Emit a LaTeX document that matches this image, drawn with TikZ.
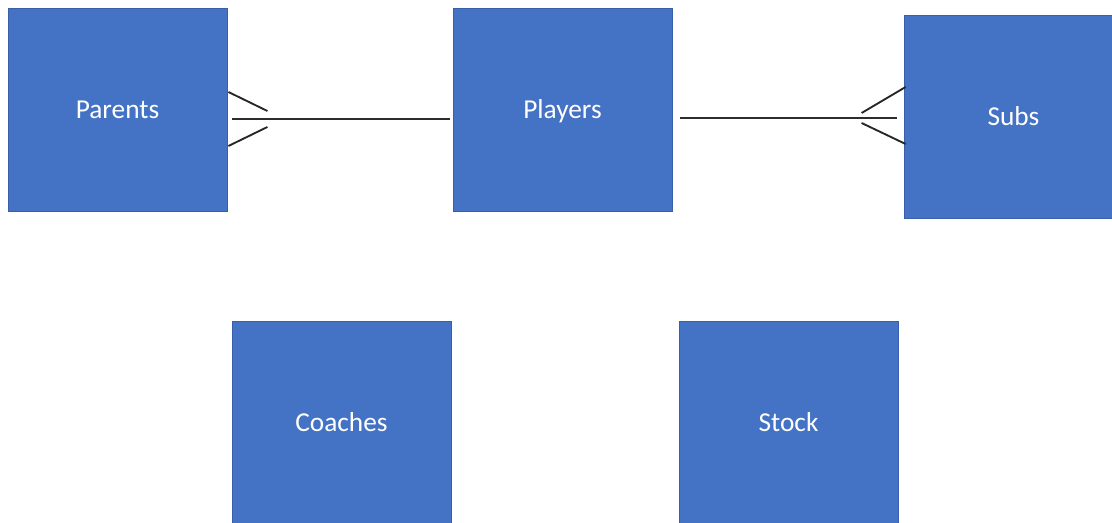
\documentclass[tikz,border=0pt]{standalone}
\usepackage{fontspec}
\setmainfont{Carlito}
\definecolor{boxblue}{RGB}{68,114,196}
\definecolor{boxedge}{RGB}{55,95,170}
\definecolor{linegray}{RGB}{45,45,45}
\begin{document}
\begin{tikzpicture}[x=0.75pt,y=-0.75pt,
  entity/.style={draw=boxedge,line width=0.6pt,fill=boxblue,minimum width=219*0.75pt,minimum height=203*0.75pt,inner sep=0pt,text height=14pt,text depth=0pt,text=white,font=\fontsize{20.5}{24}\selectfont},
  rel/.style={draw=linegray,line width=1.1pt},
  foot/.style={draw=black!85,line width=1.4pt}]
\useasboundingbox (0,0) rectangle (1112,523);
\clip (0,0) rectangle (1112,523);
\node[entity] (Parents) at (117.5,109.5) {Parents};
\node[entity] (Players) at (562.5,109.5) {Players};
\node[entity] (Subs) at (1013.5,116.5) {Subs};
\node[entity] (Coaches) at (341.5,422.5) {Coaches};
\node[entity] (Stock) at (788.5,422.5) {Stock};
% Parents -- Players
\draw[rel] ([shift={(5,9.5)}]Parents.east) -- ([shift={(-3,9.5)}]Players.west);
\draw[foot] ([shift={(1,-17.5)}]Parents.east) -- ([shift={(40,1.5)}]Parents.east);
\draw[foot] ([shift={(40,17.5)}]Parents.east) -- ([shift={(1,36.5)}]Parents.east);
% Players -- Subs
\draw[rel] ([shift={(8,8.5)}]Players.east) -- ([shift={(-7,1.5)}]Subs.west);
\draw[foot] ([shift={(2,-29.5)}]Subs.west) -- ([shift={(-42,-3.5)}]Subs.west);
\draw[foot] ([shift={(-42,6.5)}]Subs.west) -- ([shift={(2,27.5)}]Subs.west);
\end{tikzpicture}
\end{document}
